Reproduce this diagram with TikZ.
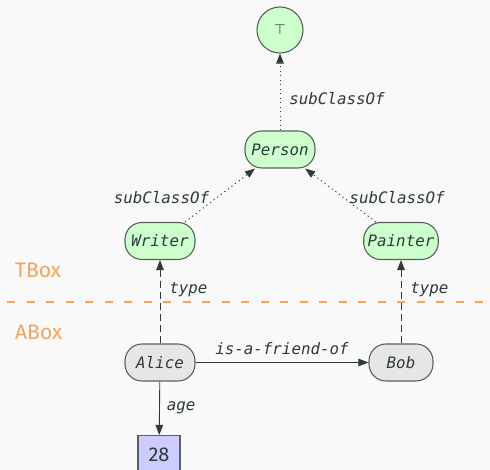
\documentclass[tikz,border=0pt]{standalone}
\usepackage{fontspec}
\setmainfont{Fira Sans}
\setsansfont{Fira Sans}
\setmonofont{DejaVu Sans Mono}
\newfontfamily\symfont{DejaVu Sans}
\usetikzlibrary{arrows.meta}
\definecolor{bgc}{HTML}{F9F9F9}
\definecolor{ink}{HTML}{2F3B3B}
\definecolor{rim}{HTML}{5A605E}
\definecolor{classfill}{HTML}{CCFFCC}
\definecolor{indfill}{HTML}{E6E6E6}
\definecolor{litfill}{HTML}{CCCCFF}
\definecolor{boxorange}{HTML}{F4A45E}
\tikzset{
  x=1pt, y=1pt,
  thing/.style={draw=rim, line width=1.1pt, rounded corners=17pt,
    minimum height=37pt, minimum width=70pt, inner xsep=4pt,
    font=\fontsize{15.8}{18}\selectfont\ttfamily\itshape, text=ink},
  cls/.style={thing, fill=classfill},
  ind/.style={thing, fill=indfill},
  lit/.style={draw=rim, line width=1.1pt, fill=litfill, minimum width=42pt,
    minimum height=39pt, font=\fontsize{20}{24}\selectfont, text=ink},
  topcls/.style={circle, draw=rim, line width=1.1pt, fill=classfill,
    minimum size=46pt, inner sep=0pt, text=rim,
    font=\symfont\fontsize{14}{16}\selectfont},
  rel/.style={draw=ink, line width=0.9pt,
    -{Triangle[length=10pt,width=7.5pt]}},
  subcls/.style={rel, dash pattern=on 1.2pt off 3.3pt},
  typeof/.style={rel, dash pattern=on 7pt off 4pt},
  lbl/.style={font=\fontsize{15.8}{18}\selectfont\ttfamily\itshape, text=ink,
    inner sep=3pt},
  boxname/.style={font=\fontsize{21}{24}\selectfont, text=boxorange,
    anchor=base west, inner sep=0pt},
}
\begin{document}
\begin{tikzpicture}
\fill[bgc] (0,0) rectangle (490,470);
\useasboundingbox (0,0) rectangle (490,470);

% TBox / ABox separator
\draw[boxorange, line width=1.6pt, dash pattern=on 8pt off 11.5pt,
  dash phase=12.5pt] (0,168) -- (490,168);
\node[boxname] (tbox) at (15,192) {TBox};
\node[boxname] (abox) at (15,130) {ABox};

% terminology
\node[topcls] (top) at (280,440) {⊤};
\node[cls] (person) at (280,320.5) {Person};
\node[cls] (writer) at (160,229) {Writer};
\node[cls] (painter) at (401,229) {Painter};

% assertions
\node[ind] (alice) at (160,107.5) {Alice};
\node[ind, minimum width=64pt] (bob) at (401,107.5) {Bob};
\node[lit] (age28) at (159,15) {28};

\draw[subcls] (person) -- node[lbl, right, pos=0.42, xshift=6pt] {subClassOf} (top);
\draw[subcls] (writer) -- node[lbl, left, pos=0.45, xshift=-4pt] {subClassOf} (person);
\draw[subcls] (painter) -- node[lbl, right, pos=0.45, xshift=2pt] {subClassOf} (person);
\draw[typeof] (alice) -- node[lbl, right, pos=0.65, xshift=6pt] {type} (writer);
\draw[typeof] (bob) -- node[lbl, right, pos=0.65, xshift=6pt] {type} (painter);
\draw[rel] (alice) -- node[lbl, above, yshift=4pt] {is-a-friend-of} (bob);
\draw[rel] (alice) -- node[lbl, right, xshift=4pt] {age} (age28);
\end{tikzpicture}
\end{document}
